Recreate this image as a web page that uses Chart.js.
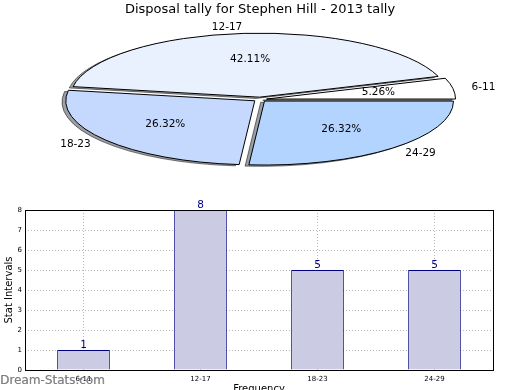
<!DOCTYPE html>
<html><head><meta charset="utf-8">
<script src="https://cdn.jsdelivr.net/npm/chart.js@4/dist/chart.umd.min.js"></script>
<style>
html,body{margin:0;padding:0;background:#fff;width:520px;height:390px;overflow:hidden;position:relative}
#pieBox{position:absolute;left:0;top:0;width:520px;height:190px}
#barBox{position:absolute;left:0;top:195px;width:520px;height:205px}
#wm{position:absolute;left:0;top:373px;font:12px "DejaVu Sans";color:rgba(115,115,115,0.8);white-space:nowrap;text-shadow:0.4px 0 0 rgba(115,115,115,0.6)}
</style></head><body>
<div id="pieBox"><canvas id="pie" width="520" height="190"></canvas></div>
<div id="barBox"><canvas id="bar" width="520" height="205"></canvas></div>
<div id="wm">Dream-Stats.com</div>
<script>
const chartTitle = 'Disposal tally for Stephen Hill - 2013 tally';
const categories = ['6-11', '12-17', '18-23', '24-29'];
const counts = [1, 8, 5, 5];
const sliceColors = ['#ffffff', '#eaf1fe', '#c5d8fe', '#b3d4fe'];
const xAxisTitle = 'Frequency';
const yAxisTitle = 'Stat Intervals';
const yMin = 0, yMax = 8, yStep = 1;

const total = counts.reduce((a, b) => a + b, 0);
const pctLabels = counts.map(c => (c / total * 100).toFixed(2) + '%');

// pie drawn counter-clockwise from 3 o'clock -> reverse order for Chart.js (clockwise)
const pieLabels = categories.slice().reverse();
const pieValues = counts.slice().reverse();
const pieColors = sliceColors.slice().reverse();
const piePct = pctLabels.slice().reverse();

const ELL = { rx: 189, ry: 64, explode: 0.035, shadow: 0.02 };

const ellipsePie = {
  id: 'ellipsePie',
  beforeDatasetsDraw(chart) {
    const ctx = chart.ctx;
    const arcs = chart.getDatasetMeta(0).data;
    const a0 = arcs[0];
    const R = a0.outerRadius, cx = a0.x, cy = a0.y;
    const sx = ELL.rx / R, sy = ELL.ry / R;
    const proto = Object.getPrototypeOf(ctx);
    const origStroke = proto.stroke;
    ctx.stroke = function () { this.save(); this.setTransform(1, 0, 0, 1, 0, 0); origStroke.call(this); this.restore(); };
    const pass = (shadow) => {
      arcs.forEach(arc => {
        const mid = (arc.startAngle + arc.endAngle) / 2;
        ctx.save();
        ctx.translate(cx, cy); ctx.scale(sx, sy); ctx.translate(-cx, -cy);
        let dx = Math.cos(mid) * ELL.explode * R, dy = Math.sin(mid) * ELL.explode * R;
        if (shadow) { dx -= ELL.shadow * R; dy += ELL.shadow * R; ctx.filter = 'brightness(0.3)'; ctx.globalAlpha = 0.5; }
        ctx.translate(dx, dy);
        arc.draw(ctx);
        ctx.restore();
      });
    };
    pass(true); pass(false);
    delete ctx.stroke;
    return false;
  },
  afterDraw(chart) {
    const ctx = chart.ctx;
    const arcs = chart.getDatasetMeta(0).data;
    const a0 = arcs[0];
    const cx = a0.x, cy = a0.y;
    ctx.save();
    ctx.font = '10.5px "DejaVu Sans"';
    ctx.fillStyle = '#000';
    ctx.textBaseline = 'middle';
    arcs.forEach((arc, i) => {
      const mid = (arc.startAngle + arc.endAngle) / 2;
      const ux = Math.cos(mid), uy = Math.sin(mid);
      const ex = cx + ux * ELL.explode * ELL.rx, ey = cy + uy * ELL.explode * ELL.ry;
      ctx.textAlign = 'center';
      ctx.fillText(piePct[i], ex + ux * 0.6 * ELL.rx, ey + uy * 0.6 * ELL.ry);
      ctx.textAlign = ux >= 0 ? 'left' : 'right';
      ctx.fillText(pieLabels[i], ex + ux * 1.1 * ELL.rx, ey + uy * 1.1 * ELL.ry);
    });
    ctx.restore();
  }
};

new Chart(document.getElementById('pie'), {
  type: 'pie',
  data: { labels: pieLabels, datasets: [{ data: pieValues, backgroundColor: pieColors, borderColor: '#000', borderWidth: 1 }] },
  options: {
    responsive: false, animation: false, rotation: 90,
    layout: { padding: { top: 0, bottom: 12.8 } },
    plugins: {
      legend: { display: false }, tooltip: { enabled: false },
      title: { display: true, text: chartTitle, color: '#000', font: { family: 'DejaVu Sans', size: 13, weight: 'normal' }, padding: { top: 2, bottom: 4 } }
    }
  },
  plugins: [ellipsePie]
});

const barExtras = {
  id: 'barExtras',
  afterDatasetsDraw(chart) {
    const ctx = chart.ctx;
    const meta = chart.getDatasetMeta(0);
    ctx.save();
    ctx.font = '10.5px "DejaVu Sans"';
    ctx.fillStyle = '#00008b';
    ctx.textAlign = 'center';
    ctx.textBaseline = 'bottom';
    meta.data.forEach((bar, i) => { ctx.fillText(String(counts[i]), bar.x, bar.y + 1); });
    ctx.restore();
  },
  afterDraw(chart) {
    const ctx = chart.ctx, a = chart.chartArea;
    ctx.save();
    ctx.strokeStyle = '#000'; ctx.lineWidth = 1;
    ctx.strokeRect(Math.round(a.left) + 0.5, Math.round(a.top) + 0.5, Math.round(a.right - a.left), Math.round(a.bottom - a.top));
    ctx.restore();
  }
};

new Chart(document.getElementById('bar'), {
  type: 'bar',
  data: { labels: categories, datasets: [{ data: counts, backgroundColor: '#cbcbe4', borderColor: '#000080', borderWidth: 1, categoryPercentage: 1, barPercentage: 0.45 }] },
  options: {
    responsive: false, animation: false,
    layout: { padding: { top: 15, right: 27, left: 0, bottom: 0 } },
    plugins: { legend: { display: false }, tooltip: { enabled: false } },
    scales: {
      x: {
        offset: true,
        grid: { offset: false, color: '#b8b8b8', drawTicks: false },
        border: { display: false, dash: [1, 2] },
        ticks: { color: '#000', font: { family: 'DejaVu Sans', size: 7 }, padding: 5 },
        title: { display: true, text: xAxisTitle, color: '#000', font: { family: 'DejaVu Sans', size: 10 }, padding: { top: 0, bottom: 5 } },
        afterFit(s) { s.height = 30; }
      },
      y: {
        min: yMin, max: yMax,
        grid: { color: '#b8b8b8', drawTicks: false },
        border: { display: false, dash: [1, 2] },
        ticks: { stepSize: yStep, color: '#000', font: { family: 'DejaVu Sans', size: 7 }, padding: 3 },
        title: { display: true, text: yAxisTitle, color: '#000', font: { family: 'DejaVu Sans', size: 10 }, padding: { top: 3, bottom: 0 } },
        afterFit(s) { s.width = 25; }
      }
    }
  },
  plugins: [barExtras]
});
</script>
</body></html>
